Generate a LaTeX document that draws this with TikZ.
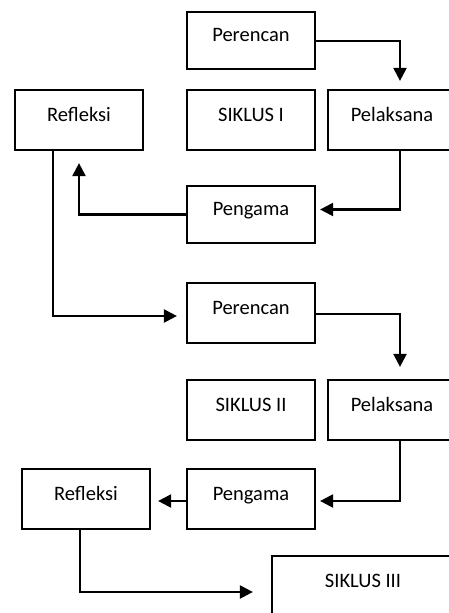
\documentclass[tikz,border=0pt]{standalone}
\usepackage{fontspec}
\setmainfont{Carlito}
\usetikzlibrary{arrows.meta,calc,positioning}
\definecolor{skInk}{RGB}{0,0,0}
\tikzset{
  siklusbox/.style={
    draw=skInk,
    line width=2.2pt,
    minimum width=128pt,
    minimum height=60pt,
    inner sep=0pt,
    text height=13pt,
    text depth=11pt,
    font=\fontsize{20.5}{24}\selectfont
  },
  flowline/.style={
    draw=skInk,
    line width=2.2pt,
    -{Triangle[length=13pt,width=13pt]}
  }
}

\begin{document}
\begin{tikzpicture}[x=1pt,y=-1pt]
  \useasboundingbox (0,0) rectangle (448,613);
  % siklus I
  \node[siklusbox,minimum height=57pt] (per1) at (251,40.5) {Perencan};
  \node[siklusbox] (ref1) at (79,120) {Refleksi};
  \node[siklusbox] (sik1) at (251,120) {SIKLUS I};
  \node[siklusbox] (pel1) at (392,120) {Pelaksana};
  \node[siklusbox,minimum height=57pt] (pen1) at (251,214.5) {Pengama};
  % siklus II
  \node[siklusbox] (per2) at (251,313) {Perencan};
  \node[siklusbox] (sik2) at (251,410) {SIKLUS II};
  \node[siklusbox] (pel2) at (392,410) {Pelaksana};
  \node[siklusbox] (pen2) at (251,499) {Pengama};
  \node[siklusbox] (ref2) at (86,499) {Refleksi};
  % siklus III
  \node[siklusbox,minimum width=182pt] (sik3) at (363,586) {SIKLUS III};

  \draw[flowline,shorten >=8pt] ($(per1.east)+(0,0.5)$) -| ($(pel1.north)+(8,0)$);
  \draw[flowline,shorten >=4pt] ($(pel1.south)+(8,0)$) |- ($(pen1.east)+(0,-5)$);
  \draw[flowline,shorten >=12pt] (pen1.west) -| (ref1.south);
  \draw[flowline,shorten >=9pt] ($(ref1.south)+(-26,0)$) |- ($(per2.west)+(0,3)$);
  \draw[flowline,shorten >=12pt] ($(per2.east)+(0,1)$) -| ($(pel2.north)+(8,0)$);
  \draw[flowline,shorten >=4pt] ($(pel2.south)+(8,0)$) |- ($(pen2.east)+(0,2)$);
  \draw[flowline,shorten >=7pt] ($(pen2.west)+(0,2)$) -- ($(ref2.east)+(0,2)$);
  \draw[flowline,shorten >=18pt] ($(ref2.south)+(-6,0)$) |- ($(sik3.west)+(0,6)$);
\end{tikzpicture}
\end{document}
